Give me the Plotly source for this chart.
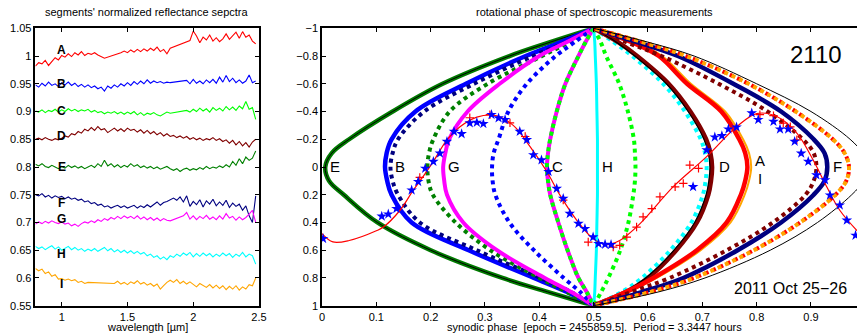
import plotly.graph_objects as go

# ---------------- left panel: spectra ----------------
wavelength = [0.800, 0.825, 0.850, 0.875, 0.900, 0.925, 0.950, 0.975, 1.000, 1.025,
              1.050, 1.075, 1.100, 1.125, 1.150, 1.175, 1.200, 1.225, 1.250, 1.275,
              1.300, 1.325, 1.350, 1.375, 1.400, 1.425, 1.450, 1.475, 1.500, 1.525,
              1.550, 1.575, 1.600, 1.625, 1.650, 1.675, 1.700, 1.725, 1.750, 1.775,
              1.800, 1.825, 1.850, 1.875, 1.900, 1.925, 1.950, 1.975, 2.000, 2.025,
              2.050, 2.075, 2.100, 2.125, 2.150, 2.175, 2.200, 2.225, 2.250, 2.275,
              2.300, 2.325, 2.350, 2.375, 2.400, 2.425, 2.450, 2.475]
N = None
spec_A = [0.982, 0.988, 0.986, 0.992, 0.983, 0.990, 0.997, 0.993, 1.001, 0.998,
          1.004, 0.999, 1.006, 1.002, 1.008, 1.001, 1.005, 1.003, 1.006, 1.002,
          0.999, 0.996, N, N, N, N, 1.006, 1.009, 1.006, 1.011,
          1.007, 1.012, 1.008, 1.013, 1.009, 1.014, 1.010, 1.016, 1.008, 1.012,
          1.004, 1.014, N, N, N, N, N, 1.028, 1.045, 1.036,
          1.024, 1.034, 1.029, 1.038, 1.027, 1.033, 1.026, 1.031, 1.040, 1.030,
          1.037, 1.043, 1.032, 1.044, 1.034, 1.038, 1.027, 1.022]
spec_B = [0.948, 0.944, 0.951, 0.946, 0.953, 0.947, 0.950, 0.945, 0.952, 0.948,
          0.953, 0.947, 0.951, 0.945, 0.949, 0.944, 0.948, 0.943, 0.946, 0.941,
          0.944, 0.937, 0.946, 0.942, 0.948, 0.944, 0.950, 0.946, 0.952, 0.947,
          0.954, 0.949, 0.955, 0.950, 0.957, 0.951, 0.955, 0.952, 0.954, 0.951,
          0.953, 0.952, N, N, N, N, 0.956, 0.950, 0.958, 0.951,
          0.955, 0.950, 0.957, 0.952, 0.958, 0.951, 0.962, 0.953, 0.965, 0.954,
          0.960, 0.952, 0.957, 0.951, 0.955, 0.966, 0.952, 0.955]
spec_C = [0.901, 0.899, 0.903, 0.898, 0.902, 0.900, 0.904, 0.899, 0.903, 0.900,
          0.905, 0.901, 0.904, 0.900, 0.903, 0.901, 0.904, 0.899, 0.902, 0.898,
          0.900, 0.896, 0.899, 0.897, 0.900, 0.896, 0.899, 0.895, 0.899, 0.896,
          0.900, 0.894, 0.898, 0.893, 0.897, 0.895, 0.898, 0.894, 0.892, 0.896,
          0.899, 0.897, N, N, N, N, 0.902, 0.899, 0.904, 0.900,
          0.906, 0.901, 0.905, 0.899, 0.907, 0.902, 0.906, 0.901, 0.909, 0.903,
          0.908, 0.902, 0.910, 0.905, 0.918, 0.904, 0.907, 0.886]
spec_D = [0.850, 0.852, 0.849, 0.853, 0.850, 0.848, 0.851, 0.849, 0.852, 0.856,
          0.854, 0.860, 0.858, 0.864, 0.861, 0.868, 0.865, 0.871, 0.866, 0.873,
          0.867, 0.869, 0.862, 0.866, 0.870, 0.865, 0.869, 0.864, 0.870, 0.866,
          0.868, 0.863, 0.867, 0.861, 0.866, 0.860, 0.864, 0.858, 0.862, 0.856,
          0.860, 0.855, 0.857, 0.853, 0.856, 0.852, 0.855, 0.850, 0.853, 0.849,
          0.852, 0.848, 0.851, 0.849, 0.853, 0.848, 0.851, 0.846, 0.849, 0.843,
          0.848, 0.840, 0.846, 0.838, 0.844, 0.836, 0.845, 0.850]
spec_E = [0.805, 0.802, 0.806, 0.801, 0.799, 0.803, 0.800, 0.797, 0.801, 0.798,
          0.803, 0.799, 0.802, 0.798, 0.801, 0.797, 0.800, 0.803, 0.799, 0.806,
          0.801, 0.812, 0.802, 0.806, 0.800, 0.804, 0.799, 0.803, 0.800, 0.806,
          0.801, 0.804, 0.799, 0.802, 0.798, 0.801, 0.797, 0.800, 0.796, 0.799,
          0.801, 0.797, 0.794, 0.797, 0.792, 0.796, 0.798, 0.794, 0.797, 0.795,
          0.799, 0.796, 0.801, 0.797, 0.800, 0.798, 0.802, 0.799, 0.804, 0.800,
          0.810, 0.803, 0.815, 0.806, 0.818, 0.812, 0.816, 0.829]
spec_F = [0.750, 0.748, 0.752, 0.746, 0.749, 0.744, 0.748, 0.745, 0.747, 0.743,
          0.746, 0.742, 0.744, 0.740, 0.742, 0.737, 0.739, 0.734, 0.736, 0.731,
          0.733, 0.728, 0.730, 0.726, 0.729, 0.731, 0.727, 0.730, 0.726, 0.729,
          0.731, 0.726, 0.730, 0.727, 0.732, 0.728, 0.733, 0.737, 0.731, 0.736,
          0.738, 0.741, 0.744, 0.740, 0.746, 0.737, 0.748, 0.729, 0.738, 0.732,
          0.741, 0.728, 0.739, 0.733, 0.742, 0.730, 0.737, 0.731, 0.740, 0.727,
          0.735, 0.729, 0.733, 0.722, 0.730, 0.712, 0.700, 0.748]
spec_G = [0.697, 0.701, 0.698, 0.702, 0.699, 0.703, 0.700, 0.698, 0.701, 0.697,
          0.699, 0.694, 0.697, 0.693, 0.698, 0.701, 0.699, 0.703, 0.700, 0.705,
          0.702, 0.707, 0.704, 0.709, 0.706, 0.711, 0.707, 0.712, 0.708, 0.711,
          0.707, 0.712, 0.706, 0.710, 0.705, 0.709, 0.704, 0.708, 0.703, 0.707,
          0.704, 0.703, N, N, N, 0.712, 0.718, 0.706, 0.712, 0.705,
          0.711, 0.707, 0.713, 0.706, 0.710, 0.705, 0.712, 0.706, 0.716, 0.708,
          0.711, 0.704, 0.710, 0.705, 0.709, 0.715, 0.722, 0.700]
spec_H = [0.657, 0.653, 0.656, 0.651, 0.655, 0.658, 0.652, 0.656, 0.650, 0.654,
          0.657, 0.651, 0.655, 0.650, 0.653, 0.648, 0.652, 0.649, 0.653, 0.648,
          0.651, 0.655, 0.649, 0.653, 0.647, 0.651, 0.646, 0.650, 0.645, 0.649,
          0.644, 0.648, 0.643, 0.646, 0.640, 0.643, 0.637, 0.640, 0.634, 0.638,
          0.633, 0.640, 0.637, 0.643, 0.639, 0.645, 0.641, 0.646, 0.638, 0.644,
          0.639, 0.645, 0.640, 0.644, 0.638, 0.643, 0.639, 0.645, 0.640, 0.644,
          0.637, 0.643, 0.639, 0.646, 0.638, 0.643, 0.640, 0.625]
spec_I = [0.617, 0.613, 0.616, 0.608, 0.611, 0.603, 0.606, 0.598, 0.599, 0.596,
          0.598, 0.595, 0.597, 0.592, 0.594, 0.590, 0.592, N, N, N,
          N, N, N, N, 0.590, 0.594, 0.589, 0.592, 0.588, 0.593,
          0.590, 0.595, 0.589, 0.592, 0.587, 0.590, 0.585, 0.589, 0.580, 0.586,
          0.592, 0.596, 0.592, 0.597, 0.590, 0.594, 0.589, 0.593, 0.588, 0.584,
          0.590, 0.586, 0.583, 0.588, 0.582, 0.587, 0.581, 0.586, 0.579, 0.585,
          0.580, 0.586, 0.578, 0.584, 0.580, 0.588, 0.586, 0.600]
spectra_names = ["A", "B", "C", "D", "E", "F", "G", "H", "I"]
spectra_label_y = [1.011, 0.950, 0.901, 0.856, 0.800, 0.735, 0.706, 0.643, 0.589]
spectra_left_ticks = [0.55, 0.6, 0.65, 0.7, 0.75, 0.8, 0.85, 0.9, 0.95, 1, 1.05]

# ---------------- right panel: phase curves ----------------
disk_y = [-1, -0.9, -0.8, -0.6, -0.4, -0.2, -0.1, 0, 0.1, 0.2, 0.4, 0.6, 0.8, 0.9, 1]
phase_E = [0.5, 0.42, 0.345, 0.222, 0.13, 0.05, 0.018, 0.006, 0.013, 0.04, 0.102, 0.2, 0.332, 0.415, 0.5]
phase_B = [0.5, 0.44, 0.375, 0.265, 0.172, 0.128, 0.119, 0.116, 0.12, 0.128, 0.165, 0.27, 0.39, 0.45, 0.5]
phase_F_dot_left = [0.5, 0.45, 0.388, 0.28, 0.188, 0.14, 0.13, 0.126, 0.13, 0.14, 0.18, 0.285, 0.402, 0.458, 0.5]
phase_E_dot = [0.5, 0.455, 0.405, 0.305, 0.235, 0.205, 0.197, 0.194, 0.196, 0.204, 0.246, 0.31, 0.4, 0.45, 0.5]
phase_G = [0.5, 0.45, 0.4, 0.327, 0.268, 0.234, 0.227, 0.223, 0.225, 0.23, 0.26, 0.322, 0.41, 0.458, 0.5]
phase_B_dot = [0.5, 0.465, 0.43, 0.377, 0.343, 0.325, 0.316, 0.313, 0.314, 0.319, 0.345, 0.39, 0.445, 0.475, 0.5]
phase_C = [0.5, 0.485, 0.472, 0.448, 0.432, 0.42, 0.416, 0.414, 0.416, 0.42, 0.435, 0.452, 0.472, 0.487, 0.5]
phase_H = [0.5, 0.502, 0.503, 0.505, 0.506, 0.507, 0.507, 0.507, 0.507, 0.507, 0.506, 0.505, 0.503, 0.502, 0.5]
phase_C_dot = [0.5, 0.513, 0.523, 0.547, 0.563, 0.574, 0.576, 0.577, 0.576, 0.573, 0.564, 0.549, 0.527, 0.514, 0.5]
phase_H_dot = [0.5, 0.537, 0.571, 0.628, 0.668, 0.697, 0.705, 0.708, 0.706, 0.701, 0.68, 0.641, 0.589, 0.552, 0.5]
phase_D = [0.5, 0.545, 0.58, 0.638, 0.678, 0.707, 0.715, 0.718, 0.716, 0.711, 0.69, 0.652, 0.6, 0.56, 0.5]
phase_D_black = [0.5, 0.542, 0.576, 0.634, 0.674, 0.703, 0.711, 0.714, 0.712, 0.707, 0.686, 0.648, 0.596, 0.557, 0.5]
phase_A = [0.5, 0.57, 0.62, 0.672, 0.735, 0.768, 0.779, 0.783, 0.779, 0.771, 0.745, 0.69, 0.61, 0.56, 0.5]
phase_I = [0.5, 0.575, 0.626, 0.679, 0.742, 0.775, 0.786, 0.790, 0.786, 0.778, 0.752, 0.697, 0.616, 0.565, 0.5]
phase_D_dot = [0.5, 0.56, 0.625, 0.73, 0.82, 0.885, 0.905, 0.91, 0.905, 0.89, 0.83, 0.745, 0.64, 0.57, 0.5]
phase_F = [0.5, 0.58, 0.655, 0.757, 0.845, 0.905, 0.925, 0.93, 0.925, 0.905, 0.845, 0.765, 0.665, 0.59, 0.5]
phase_AI_dot = [0.5, 0.59, 0.67, 0.785, 0.872, 0.94, 0.962, 0.97, 0.965, 0.945, 0.88, 0.795, 0.685, 0.605, 0.5]
phase_outer = [0.5, 0.6, 0.685, 0.8, 0.9, 0.972, 0.995, 1.005, 0.997, 0.975, 0.912, 0.825, 0.705, 0.62, 0.5]

model_phase = [0.0, 0.02, 0.05, 0.10, 0.113, 0.144, 0.168, 0.186, 0.205, 0.23, 0.254, 0.285,
               0.32, 0.352, 0.383, 0.414, 0.438, 0.469, 0.50, 0.524, 0.548, 0.585, 0.647,
               0.708, 0.763, 0.80, 0.837, 0.874, 0.904, 0.929, 0.953, 0.985]
model_y = [0.48, 0.54, 0.53, 0.46, 0.433, 0.31, 0.167, 0.07, -0.04, -0.196, -0.29, -0.36,
           -0.37, -0.30, -0.147, 0.034, 0.203, 0.384, 0.52, 0.56, 0.53, 0.41, 0.14,
           -0.075, -0.29, -0.385, -0.364, -0.244, -0.05, 0.143, 0.312, 0.46]

plus_phase = [0.18, 0.272, 0.309, 0.346, 0.374, 0.444, 0.49, 0.536, 0.548, 0.561, 0.579,
              0.591, 0.607, 0.622, 0.65, 0.665, 0.677, 0.693, 0.806, 0.831, 0.849, 0.862, 0.874]
plus_y = [0.075, -0.355, -0.377, -0.318, -0.22, 0.239, 0.541, 0.577, 0.565, 0.505, 0.433,
          0.36, 0.3, 0.215, 0.143, 0.118, -0.014, 0.01, -0.377, -0.37, -0.317, -0.29, -0.196]

star_phase = [0.002, 0.11, 0.122, 0.137, 0.165, 0.177, 0.19, 0.205, 0.217, 0.23, 0.243, 0.257,
              0.272, 0.285, 0.297, 0.312, 0.325, 0.337, 0.364, 0.377, 0.389, 0.404, 0.417,
              0.432, 0.444, 0.456, 0.472, 0.484, 0.499, 0.509, 0.521, 0.532, 0.683, 0.708,
              0.723, 0.736, 0.748, 0.763, 0.791, 0.803, 0.831, 0.843, 0.858, 0.87, 0.882,
              0.895, 0.91, 0.926, 0.935, 0.953, 0.966, 0.982]
star_y = [0.517, 0.355, 0.34, 0.3, 0.167, 0.106, 0.01, -0.039, -0.099, -0.184, -0.256, -0.239,
          -0.317, -0.321, -0.312, -0.377, -0.353, -0.341, -0.256, -0.196, -0.087, -0.05, 0.034,
          0.155, 0.227, 0.336, 0.408, 0.445, 0.505, 0.553, 0.558, 0.56, 0.143, -0.123,
          -0.215, -0.225, -0.273, -0.287, -0.389, -0.341, -0.328, -0.273, -0.273, -0.184, -0.099,
          -0.039, 0.058, 0.094, 0.203, 0.275, 0.384, 0.493]

segment_labels = ["E", "B", "G", "C", "H", "D", "A", "I", "F"]
segment_label_phase = [0.024, 0.144, 0.243, 0.434, 0.525, 0.741, 0.806, 0.806, 0.949]
segment_label_y = [0, 0, 0, 0, 0, 0, -0.05, 0.08, 0]

FONT = "Liberation Sans, Arial, Helvetica, sans-serif"
fig = go.Figure()

spec_colors = ["#ff0000", "#0000ff", "#00ff00", "#800000", "#008000",
               "#000080", "#ff00ff", "#00ffff", "#ffa500"]
for name, vals, col in zip(spectra_names,
                           [spec_A, spec_B, spec_C, spec_D, spec_E, spec_F, spec_G, spec_H, spec_I],
                           spec_colors):
    fig.add_trace(go.Scatter(x=wavelength, y=vals, mode="lines", connectgaps=True,
                             line=dict(color=col, width=1.1), xaxis="x", yaxis="y",
                             showlegend=False, hoverinfo="skip"))


def curve(xs, color, width, dash="solid"):
    fig.add_trace(go.Scatter(x=xs, y=disk_y, mode="lines", xaxis="x2", yaxis="y2",
                             line=dict(color=color, width=width, dash=dash, shape="spline", smoothing=1),
                             showlegend=False, hoverinfo="skip"))


DOT = "4px,4px"
curve(phase_E, "#007a00", 4.5)
curve(phase_E, "#000000", 1)
curve(phase_B, "#0000ff", 4.5)
curve(phase_F_dot_left, "#000080", 4, DOT)
curve(phase_E_dot, "#008000", 4, DOT)
curve(phase_G, "#ff00ff", 4)
curve(phase_B_dot, "#0000ff", 4, DOT)
curve(phase_C, "#ff00ff", 4)
curve(phase_C, "#00ff00", 4, DOT)
curve(phase_H, "#00ffff", 3)
curve(phase_C_dot, "#00ff00", 4, DOT)
curve(phase_H_dot, "#00ffff", 4, DOT)
curve(phase_D, "#800000", 4.5)
curve(phase_D_black, "#000000", 1.2)
curve(phase_I, "#ffa500", 2)
curve(phase_A, "#ff0000", 4.5)
curve(phase_D_dot, "#800000", 4, DOT)
curve(phase_F, "#000080", 4.5)
curve(phase_AI_dot, "#ff0000", 4, DOT)
curve(phase_AI_dot, "#ffa500", 4, "0px,2px,4px,2px")
curve(phase_outer, "#000000", 1)

fig.add_trace(go.Scatter(x=model_phase, y=model_y, mode="lines", xaxis="x2", yaxis="y2",
                         line=dict(color="#ff0000", width=1.2, shape="spline", smoothing=1),
                         showlegend=False, hoverinfo="skip"))
fig.add_trace(go.Scatter(x=plus_phase, y=plus_y, mode="markers", xaxis="x2", yaxis="y2",
                         marker=dict(symbol="cross-thin", size=6, color="#ff0000",
                                     line=dict(color="#ff0000", width=1.2)),
                         showlegend=False, hoverinfo="skip"))
fig.add_trace(go.Scatter(x=star_phase, y=star_y, mode="markers", xaxis="x2", yaxis="y2",
                         marker=dict(symbol="star", size=8, color="#0000ff", line=dict(width=0)),
                         showlegend=False, hoverinfo="skip"))


def note(x, y, text, size, xref="paper", yref="paper"):
    return dict(x=x, y=y, xref=xref, yref=yref, text=text, showarrow=False,
                xanchor="center", yanchor="middle",
                font=dict(size=size, color="black", family=FONT))


annotations = []
for name, yv in zip(spectra_names, spectra_label_y):
    annotations.append(note(1.0, yv, "<b>%s</b>" % name, 12, "x", "y"))
for name, xv, yv in zip(segment_labels, segment_label_phase, segment_label_y):
    annotations.append(note(xv, yv, name, 15, "x2", "y2"))
annotations += [
    note(816 / 857, 1 - 54 / 333, "2110", 24),
    note(790 / 857, 1 - 288 / 333, "2011 Oct 25\u221226", 16),
    note(147 / 857, 1 - 12 / 333, "segments' normalized reflectance sepctra", 11),
    note(594 / 857, 1 - 12 / 333, "rotational phase of spectroscopic measurements", 11),
    note(147 / 857, 1 - 327 / 333, "wavelength [\u00b5m]", 11),
    note(594 / 857, 1 - 327 / 333, "synodic phase  [epoch = 2455859.5].  Period = 3.3447 hours", 11),
]

axis_common = dict(showgrid=False, zeroline=False, showline=True, linecolor="black",
                   linewidth=1.5, ticks="inside", ticklen=4, tickcolor="black", tickwidth=1,
                   tickfont=dict(size=11, color="black", family=FONT))
fig.update_layout(
    width=857, height=333, margin=dict(l=0, r=0, t=0, b=0, autoexpand=False),
    autosize=False,
    paper_bgcolor="white", plot_bgcolor="white",
    xaxis=dict(domain=[35.4 / 857, 259 / 857], range=[0.8, 2.5],
               tickvals=[1, 1.5, 2, 2.5], mirror="ticks", anchor="y", **axis_common),
    yaxis=dict(domain=[1 - 305.7 / 333, 1 - 28.3 / 333], range=[0.55, 1.05],
               tickvals=spectra_left_ticks, mirror="ticks", anchor="x", **axis_common),
    xaxis2=dict(domain=[322 / 857, 1.0], range=[0, 535 / 543.3], dtick=0.1, tick0=0,
                mirror="ticks", anchor="y2", **axis_common),
    yaxis2=dict(domain=[1 - 305.7 / 333, 1 - 28.3 / 333], range=[1, -1], dtick=0.2,
                anchor="x2", **axis_common),
    annotations=annotations,
)
fig.write_html("out.html", config={"responsive": False, "displayModeBar": False},
               post_script="document.body.style.margin='0';document.body.style.padding='0';"
                           "document.body.style.overflow='hidden';")
